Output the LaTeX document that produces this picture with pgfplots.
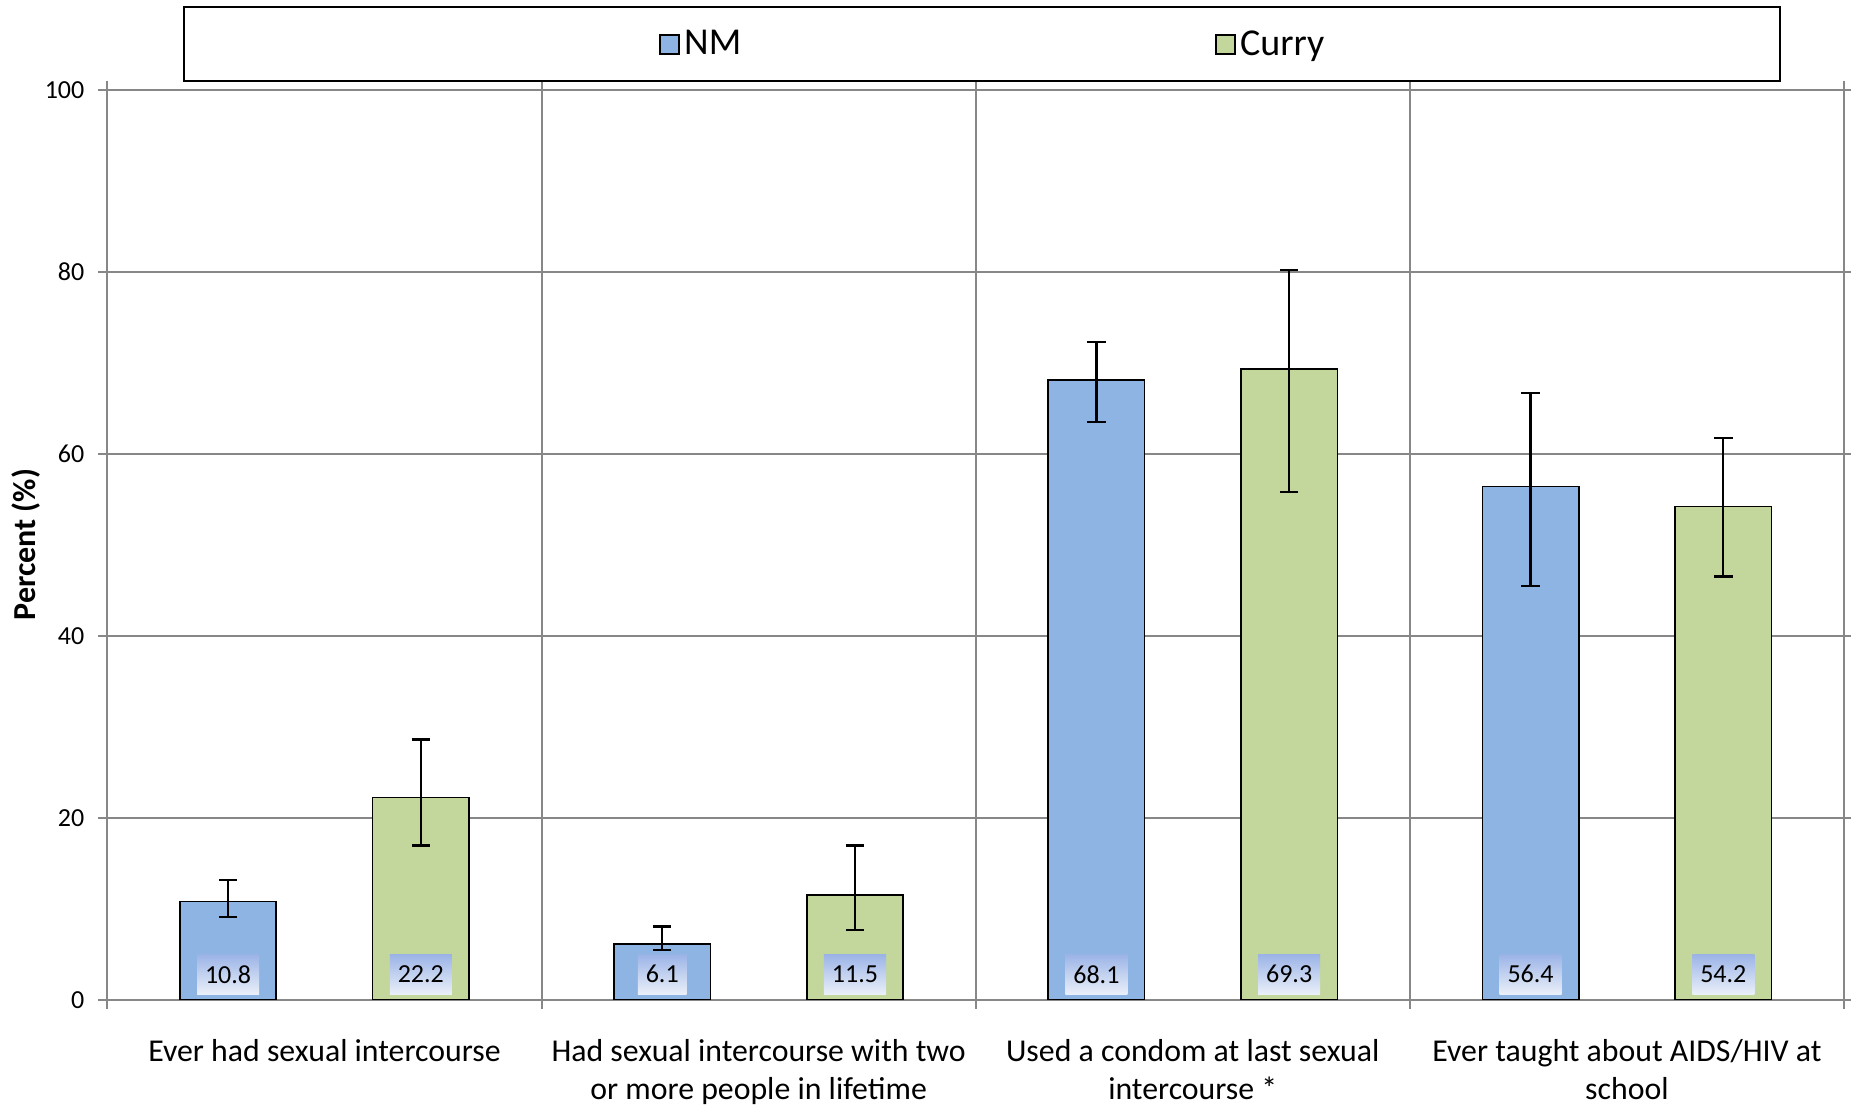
\documentclass[border=0pt]{standalone}
\usepackage{pgfplots}
\pgfplotsset{compat=1.18}
\usepackage{fontspec}
\setmainfont{Carlito}
\definecolor{nmblue}{HTML}{8EB4E3}
\definecolor{currygreen}{HTML}{C3D69B}
\definecolor{gridgray}{HTML}{878787}
\definecolor{lbltop}{HTML}{9AB3E6}
\definecolor{lblbot}{HTML}{EAF0F9}
\begin{document}
\begin{tikzpicture}
\begin{axis}[
  name=ax,
  scale only axis, width=868.3pt, height=455pt,
  xmin=-0.5, xmax=3.5, ymin=0, ymax=100,
  axis line style={gridgray, line width=1pt},
  xtick={-0.5,0.5,1.5,2.5,3.5}, xticklabels={,,,,},
  ytick={0,20,...,100},
  grid=major, major grid style={gridgray, line width=1pt},
  tick align=outside, major tick length=4.5pt,
  tick style={gridgray, line width=1pt},
  extra x ticks={0,1,2,3},
  extra x tick labels={Ever had sexual intercourse, {Had sexual intercourse with two\\or more people in lifetime}, {Used a condom at last sexual\\intercourse *}, {Ever taught about AIDS/HIV at\\school}},
  extra x tick style={major tick length=0pt, grid=none,
     xticklabel style={align=center, anchor=north, yshift=-16.5pt, font=\fontsize{15.9}{18.9}\selectfont}},
  yticklabel style={font=\fontsize{13}{15}\selectfont, xshift=-3.5pt},
  /pgf/number format/assume math mode=true,
  ylabel={\bfseries Percent (\%)},
  ylabel style={font=\fontsize{16}{19}\selectfont, at={(axis description cs:-0.0469,0.5)}, anchor=center},
  legend columns=2,
  legend style={at={(0.5104,1.0499)}, anchor=center, draw=none, fill=none,
     font=\fontsize{19}{22}\selectfont,
     /tikz/every even column/.append style={column sep=235pt}},
  legend image code/.code={\draw[#1, draw=black, line width=0.9pt] (-2.4pt,-4.8pt) rectangle (7.2pt,4.8pt);},
  error bars/y dir=both, error bars/y explicit,
  error bars/error bar style={black, line width=1.1pt},
  error bars/error mark options={black, line width=1.1pt, mark size=4.6pt, rotate=90},
]
\addplot[ybar, bar width=0.222, bar shift=0pt, fill=nmblue, draw=black, line width=0.8pt]
  coordinates {(-0.222,10.8) += (0,2.35) -= (0,1.75)
               (0.778,6.1) += (0,1.95) -= (0,0.6)
               (1.778,68.1) += (0,4.2) -= (0,4.6)
               (2.778,56.4) += (0,10.3) -= (0,10.9)};
\addlegendentry{NM}
\addplot[ybar, bar width=0.222, bar shift=0pt, fill=currygreen, draw=black, line width=0.8pt]
  coordinates {(0.222,22.2) += (0,6.4) -= (0,5.25)
               (1.222,11.5) += (0,5.45) -= (0,3.8)
               (2.222,69.3) += (0,10.9) -= (0,13.5)
               (3.222,54.2) += (0,7.5) -= (0,7.7)};
\addlegendentry{Curry}
\addplot[forget plot, draw=none, mark=none, nodes near coords, point meta=explicit symbolic,
  every node near coord/.append style={anchor=center, top color=lbltop, bottom color=lblbot,
     text=black, font=\fontsize{13}{15}\selectfont, inner xsep=4pt, minimum height=20pt}]
  coordinates {(-0.222,2.8) [10.8] (0.222,2.8) [22.2] (0.778,2.8) [6.1] (1.222,2.8) [11.5]
               (1.778,2.8) [68.1] (2.222,2.8) [69.3] (2.778,2.8) [56.4] (3.222,2.8) [54.2]};
\end{axis}
\draw[black, line width=1pt] ([shift={(38.3pt,4.1pt)}]ax.north west) rectangle ([shift={(836.3pt,41.35pt)}]ax.north west);
\pgfresetboundingbox
\path ([shift={(-53.7pt,-52.5pt)}]ax.south west) rectangle ([shift={(3.5pt,44.85pt)}]ax.north east);
\end{tikzpicture}
\end{document}
